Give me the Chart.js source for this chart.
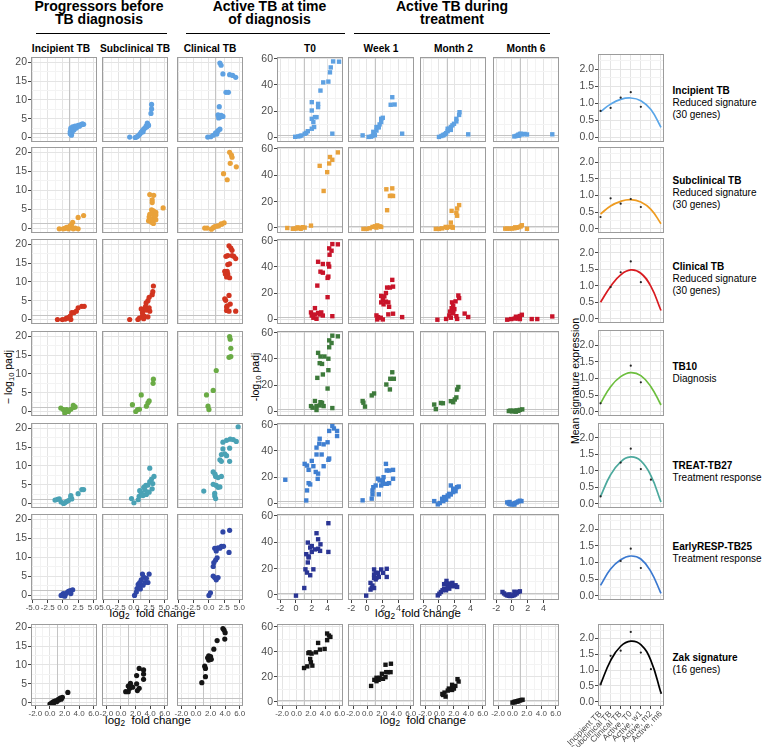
<!DOCTYPE html>
<html>
<head>
<meta charset="utf-8">
<script src="https://cdn.jsdelivr.net/npm/chart.js@4.4.1/dist/chart.umd.min.js"></script>
<style>
  body { margin: 0; background: #fff; font-family: 'Liberation Sans', Arial, sans-serif; }
  #fig { position: relative; width: 763px; height: 747px; overflow: hidden; }
  #fig canvas { position: absolute; }
  .t { position: absolute; white-space: nowrap; color: #000; }
  .c { transform: translateX(-50%); text-align: center; }
  .grp { font-weight: bold; font-size: 14px; line-height: 13px; }
  .rule { position: absolute; height: 0; border-top: 1px solid #000; }
  .hdr { font-weight: bold; font-size: 10.2px; line-height: 12px; }
  .sig { font-size: 10px; line-height: 12px; left: 672.5px; }
  .xt { font-size: 11.5px; line-height: 13px; }
  .yt { font-size: 10.5px; line-height: 12px; transform: translate(-50%, -50%) rotate(-90deg); }
  sub { font-size: 0.72em; vertical-align: -0.3em; line-height: 0; }
</style>
</head>
<body>
<div id="fig">
  <div class="t grp c" style="left:99px;top:0px">Progressors before<br>TB diagnosis</div>
  <div class="t grp c" style="left:269.5px;top:0px">Active TB at time<br>of diagnosis</div>
  <div class="t grp c" style="left:452px;top:0px">Active TB during<br>treatment</div>
  <div class="rule" style="left:36px;top:33px;width:131px"></div>
  <div class="rule" style="left:186px;top:33px;width:159px"></div>
  <div class="rule" style="left:354px;top:33px;width:196px"></div>

  <div class="t hdr c" style="left:61px;top:42.5px">Incipient TB</div>
  <div class="t hdr c" style="left:135px;top:42.5px">Subclinical TB</div>
  <div class="t hdr c" style="left:210px;top:42.5px">Clinical TB</div>
  <div class="t hdr c" style="left:310px;top:42.5px">T0</div>
  <div class="t hdr c" style="left:381px;top:42.5px">Week 1</div>
  <div class="t hdr c" style="left:453.5px;top:42.5px">Month 2</div>
  <div class="t hdr c" style="left:526px;top:42.5px">Month 6</div>

  <div class="t yt" style="left:7.5px;top:377px">&minus; log<sub>10</sub> padj</div>
  <div class="t yt" style="left:254.5px;top:377px">-log<sub>10</sub> padj</div>
  <div class="t yt" style="left:575px;top:381px">Mean signature expression</div>

  <div class="t xt c" style="left:152.5px;top:606.5px">log<sub>2</sub>&nbsp; fold change</div>
  <div class="t xt c" style="left:418px;top:606.5px">log<sub>2</sub>&nbsp; fold change</div>
  <div class="t xt c" style="left:148px;top:713.5px">log<sub>2</sub>&nbsp; fold change</div>
  <div class="t xt c" style="left:423px;top:713.5px">log<sub>2</sub>&nbsp; fold change</div>

  <div class="t sig" style="top:84.5px"><b>Incipient TB</b><br>Reduced signature<br>(30 genes)</div>
  <div class="t sig" style="top:175.2px"><b>Subclinical TB</b><br>Reduced signature<br>(30 genes)</div>
  <div class="t sig" style="top:260.5px"><b>Clinical TB</b><br>Reduced signature<br>(30 genes)</div>
  <div class="t sig" style="top:361.2px"><b>TB10</b><br>Diagnosis</div>
  <div class="t sig" style="top:459.8px"><b>TREAT-TB27</b><br>Treatment response</div>
  <div class="t sig" style="top:540.5px"><b>EarlyRESP-TB25</b><br>Treatment response</div>
  <div class="t sig" style="top:652.2px"><b>Zak signature</b><br>(16 genes)</div>
</div>
<script>
// tick labels
const fcTicksWide = [-5, -2.5, 0, 2.5, 5];
const fcTicksNarrow = [-2, 0, 2, 4];
const fcTicksZak = [-2, 0, 2, 4, 6];
const padjTicksLow = [0, 5, 10, 15, 20];
const padjTicksHigh = [0, 20, 40, 60];
const exprTicks = [0, 0.5, 1, 1.5, 2];
const stageLabels = ['Incipient TB', 'Subclinical TB', 'Clinical TB', 'Active, T0', 'Active, w1', 'Active, m2', 'Active, m6'];

// volcano points [log2 fold change, -log10 padj] — Incipient TB reduced signature
const incPInc = [[1.2,1.0],[1.2,1.5],[1.3,2.0],[1.3,2.5],[1.4,1.8],[1.5,1.3],[1.5,2.2],[1.6,2.8],[1.7,2.4],[1.8,2.0],[1.9,2.6],[2.0,3.0],[2.1,2.7],[2.2,2.5],[2.4,2.9],[2.5,3.2],[2.7,3.0],[2.8,3.3],[3.0,3.4],[3.2,3.6],[3.4,3.5],[1.4,0.6]];
const incPSub = [[-0.7,0.1],[0.2,0.0],[0.4,0.1],[0.6,0.3],[0.8,0.6],[1.0,1.0],[1.2,1.4],[1.4,1.8],[1.5,1.5],[1.6,2.2],[1.8,2.5],[2.0,3.0],[2.1,2.8],[2.2,3.8],[2.3,3.5],[2.4,3.2],[2.8,6.4],[2.9,7.6],[2.9,8.8]];
const incPCli = [[-0.2,0.1],[0.3,0.2],[0.7,0.6],[1.1,1.2],[1.3,0.9],[1.5,1.8],[1.8,2.2],[1.6,5.2],[1.5,6.0],[1.8,5.4],[2.0,5.9],[2.3,5.6],[1.7,8.2],[2.8,12.0],[3.2,12.0],[2.3,16.9],[3.4,16.7],[3.9,16.5],[4.4,16.0],[1.8,19.8],[2.0,19.2]];
const incT0 = [[-0.1,0.2],[0.3,0.5],[0.5,0.8],[0.7,1.2],[1.1,2.5],[1.3,3.2],[1.5,4.5],[2.0,6.4],[2.3,7.7],[2.2,11.5],[2.0,14.0],[2.4,15.3],[2.6,15.3],[2.0,20.4],[2.8,23.0],[2.8,25.5],[2.0,26.8],[3.1,35.7],[3.45,42.0],[4.1,42.6],[4.3,49.7],[4.4,53.5],[4.7,58.1],[5.45,57.9],[4.6,2.6]];
const incW1 = [[-0.55,1.3],[0.2,0.1],[0.5,0.3],[0.7,0.8],[0.8,4.0],[0.9,2.6],[1.0,1.5],[1.2,5.0],[1.4,7.6],[1.2,7.7],[1.5,7.5],[1.6,9.7],[1.8,11.5],[1.8,14.0],[2.0,14.8],[3.0,24.8],[3.5,25.0],[3.2,30.6],[4.45,2.6]];
const incM2 = [[0.0,0.1],[0.3,0.8],[0.5,1.3],[0.6,1.8],[0.8,2.2],[0.9,3.0],[1.1,4.5],[1.1,6.4],[1.3,6.4],[1.5,5.5],[1.5,7.7],[1.7,9.0],[1.9,10.2],[2.2,12.0],[2.2,14.0],[2.55,17.0],[2.6,19.1],[3.7,2.1]];
const incM6 = [[0.3,0.5],[0.5,0.8],[0.7,1.2],[0.8,1.8],[0.9,1.0],[1.0,2.3],[1.1,2.6],[1.3,2.0],[1.6,2.4],[1.9,2.0],[5.1,2.1]];

// Subclinical TB reduced signature
const subPInc = [[-0.6,-0.1],[0.05,-0.1],[0.3,0.0],[0.6,0.3],[0.9,-0.1],[1.0,0.4],[1.2,0.7],[1.3,0.2],[1.4,1.0],[1.6,1.6],[1.7,-0.1],[2.0,0.1],[2.5,-0.1],[2.5,2.9],[3.4,3.4]];
const subPSub = [[2.4,2.0],[2.5,3.0],[2.6,2.5],[2.6,3.7],[2.6,8.9],[2.8,1.9],[2.9,1.6],[2.9,4.9],[3.0,2.3],[3.0,6.8],[3.0,7.5],[3.1,3.7],[3.2,1.3],[3.2,4.6],[3.25,8.7],[3.4,2.9],[3.6,2.3],[3.6,3.5],[3.6,4.2],[4.8,5.4]];
const subPCli = [[-0.7,0.1],[-0.3,0.1],[0.4,-0.2],[0.7,0.2],[0.95,0.5],[1.3,0.6],[1.6,0.7],[2.0,1.2],[2.1,1.1],[2.5,1.5],[2.4,14.4],[3.0,12.8],[3.5,17.1],[3.4,20.0],[3.7,19.3],[3.8,18.7],[4.5,16.2]];
const subT0 = [[-1.1,0.0],[-0.4,-0.6],[-0.2,-0.6],[0.0,-0.4],[0.2,0.5],[0.4,0.0],[0.6,-0.6],[0.85,0.6],[1.1,0.3],[1.9,1.8],[3.5,28.1],[3.95,42.4],[3.0,47.2],[4.2,49.0],[4.6,51.8],[4.3,53.9],[5.3,57.4]];
const subW1 = [[-0.45,-0.7],[-0.05,-0.7],[0.35,-0.2],[0.7,0.8],[1.0,1.3],[1.2,0.3],[1.3,2.0],[1.6,1.3],[1.8,0.8],[2.55,13.5],[2.9,24.3],[3.1,24.5],[3.3,24.3],[2.45,29.4],[3.2,30.1]];
const subM2 = [[-0.4,-0.7],[0.0,-0.7],[0.4,-0.3],[0.85,0.8],[1.0,0.2],[1.25,0.8],[1.7,0.8],[1.75,0.2],[1.5,4.1],[1.6,13.0],[2.2,11.5],[2.3,9.3],[2.3,14.8],[2.55,17.4]];
const subM6 = [[-0.85,-0.5],[-0.6,-0.5],[-0.3,-0.5],[0.0,-0.4],[0.3,-0.2],[0.4,0.5],[0.6,0.2],[0.9,0.6],[1.1,1.2],[1.25,2.1],[1.9,-0.6]];

// Clinical TB reduced signature
const cliPInc = [[-0.9,0.0],[-0.1,0.0],[0.4,0.1],[0.6,0.4],[0.9,0.4],[1.0,0.6],[1.3,0.0],[1.2,0.9],[1.45,1.8],[1.8,1.8],[2.2,2.2],[2.5,3.1],[3.1,3.5],[3.5,3.5]];
const cliPSub = [[-0.7,0.0],[0.65,0.0],[0.9,0.4],[1.4,0.9],[1.6,0.2],[1.7,0.9],[2.3,0.7],[1.4,1.8],[1.2,2.8],[1.6,2.7],[2.0,2.5],[2.6,2.2],[1.9,3.4],[2.5,3.1],[2.0,4.4],[2.3,5.0],[2.5,5.9],[3.0,6.6],[3.1,7.4],[3.2,8.9]];
const cliPCli = [[3.3,19.6],[3.6,19.0],[3.8,18.4],[2.8,16.8],[3.1,17.0],[3.8,17.0],[4.1,16.8],[4.4,16.2],[3.1,14.6],[3.4,14.8],[2.6,12.8],[3.0,12.8],[2.7,12.1],[3.1,12.1],[2.9,11.3],[3.4,11.1],[3.3,6.4],[2.6,5.5],[2.75,5.1],[3.5,4.1],[3.0,3.6],[2.9,3.3],[2.9,2.4],[3.3,2.2],[4.4,2.2]];
const cliT0 = [[4.6,57.6],[5.3,57.4],[4.2,54.3],[4.5,52.5],[4.25,49.4],[2.8,44.0],[3.4,42.3],[4.1,42.3],[4.2,40.3],[3.1,36.4],[3.4,35.6],[4.1,32.6],[4.0,31.6],[2.7,25.7],[4.0,16.8],[2.4,8.4],[1.9,5.1],[2.0,2.7],[2.4,3.5],[2.8,4.7],[3.2,5.1],[3.4,2.7],[3.0,3.5],[2.2,1.0],[2.6,0.2],[4.6,2.2]];
const cliW1 = [[3.2,30.1],[2.55,24.2],[2.9,24.2],[3.3,24.9],[2.4,20.0],[1.8,17.8],[2.2,17.4],[2.0,14.8],[2.4,13.4],[2.7,12.8],[1.8,12.8],[2.1,11.3],[2.8,9.4],[1.2,2.8],[1.4,1.5],[1.3,-0.3],[1.75,1.0],[2.0,-0.3],[2.7,3.6],[3.3,4.1],[4.45,1.5]];
const cliM2 = [[2.45,18.1],[2.55,16.1],[2.1,13.6],[1.65,12.8],[1.8,10.2],[1.6,8.4],[1.95,7.6],[1.8,6.5],[1.4,5.7],[1.8,4.4],[1.3,2.7],[2.2,2.2],[1.5,1.0],[3.25,4.2],[3.7,1.6],[-0.2,-0.5],[0.9,0.1],[2.3,0.1]];
const cliM6 = [[-0.6,-0.5],[-0.1,0.0],[0.35,0.4],[0.5,1.8],[0.75,0.4],[1.0,2.3],[1.0,0.0],[1.25,3.3],[2.5,0.0],[3.2,0.0],[5.1,2.0]];

// TB10 diagnosis signature
const tb10PInc = [[-0.35,0.9],[0.07,0.5],[0.3,-0.4],[0.6,0.5],[0.9,0.0],[1.3,0.6],[1.7,1.6],[1.8,1.1],[2.0,1.2]];
const tb10PSub = [[-0.25,1.8],[0.3,0.0],[0.6,0.5],[0.9,0.6],[1.2,4.4],[2.05,1.4],[2.3,2.3],[2.5,2.8],[3.15,7.5],[3.2,8.6]];
const tb10PCli = [[0.0,0.5],[-0.15,1.4],[-0.4,4.4],[0.7,5.6],[1.2,10.9],[3.3,14.4],[3.6,14.6],[3.6,16.8],[3.5,19.2],[3.4,19.9]];
const tb10T0 = [[4.6,57.9],[5.3,57.4],[4.2,54.3],[4.5,52.3],[4.2,49.0],[2.8,44.7],[3.1,41.9],[3.6,41.9],[4.1,40.2],[3.0,36.8],[3.3,36.2],[4.1,31.4],[3.4,28.1],[2.7,25.5],[4.0,17.3],[2.4,7.7],[3.1,6.8],[3.3,6.3],[1.9,3.8],[2.6,3.8],[3.0,4.3],[3.5,3.8],[2.1,2.6],[2.6,0.8],[4.6,2.3]];
const tb10W1 = [[3.2,29.8],[2.95,24.8],[3.4,24.8],[2.45,20.4],[2.9,16.6],[0.9,13.5],[0.6,12.0],[-0.55,7.7],[-0.45,6.4],[-0.25,3.4]];
const tb10M2 = [[-0.6,5.0],[-0.4,1.5],[0.25,6.2],[0.5,6.0],[1.5,7.6],[1.8,6.8],[2.0,8.9],[2.2,10.5],[2.3,16.5],[2.45,18.5]];
const tb10M6 = [[-0.4,0.0],[-0.2,0.4],[0.0,-0.3],[0.2,0.3],[0.4,0.0],[0.5,-0.5],[0.6,0.5],[0.8,0.2],[1.0,0.9],[1.3,1.3]];

// TREAT-TB27 treatment response signature
const treatPInc = [[-1.3,0.9],[-0.9,1.1],[-0.6,1.2],[-0.3,0.4],[0.1,0.0],[0.3,0.2],[0.6,0.5],[0.9,0.8],[1.3,1.6],[1.45,1.2],[1.3,2.1],[2.5,2.6],[3.1,3.7],[3.4,3.7]];
const treatPSub = [[-0.4,1.3],[0.0,0.2],[0.7,1.0],[0.85,1.9],[0.95,3.4],[1.2,2.8],[1.4,2.3],[1.5,2.1],[1.6,4.3],[1.8,3.6],[1.95,4.8],[2.05,2.4],[2.2,3.0],[2.3,4.9],[2.5,3.0],[2.6,5.8],[2.6,9.4],[2.9,6.5],[3.0,3.9],[3.1,5.3],[3.3,7.2]];
const treatPCli = [[4.8,20.4],[2.3,16.3],[2.9,16.8],[3.5,17.1],[4.0,17.0],[4.5,16.5],[2.3,14.5],[3.4,14.7],[2.05,13.0],[2.6,13.2],[2.9,12.7],[1.8,11.6],[2.05,11.2],[3.4,11.2],[0.7,8.4],[1.0,7.8],[1.1,7.2],[1.5,6.9],[2.05,7.2],[0.7,5.1],[1.2,4.8],[1.5,4.3],[1.8,4.4],[-0.85,3.3],[0.95,2.7],[0.95,2.0],[1.1,1.3]];
const treatT0 = [[-1.35,17.9],[1.1,30.1],[1.4,28.8],[1.6,25.5],[2.0,32.4],[2.2,28.3],[1.6,15.3],[1.8,14.3],[1.4,9.7],[1.3,2.0],[2.6,42.6],[3.0,49.4],[2.95,45.6],[3.5,45.1],[2.6,37.3],[3.25,37.3],[2.5,23.9],[2.8,22.6],[2.75,18.6],[3.5,28.3],[4.0,46.7],[4.1,33.2],[4.2,34.2],[4.2,55.4],[4.6,59.3],[5.2,55.4],[5.2,51.5],[4.8,57.3]];
const treatW1 = [[-0.55,2.1],[0.6,3.4],[0.7,6.7],[0.7,9.7],[0.8,12.2],[1.1,13.5],[1.4,18.7],[1.5,6.7],[1.6,17.4],[1.8,13.5],[2.0,17.4],[2.0,14.8],[2.1,19.9],[2.4,30.1],[2.5,25.0],[2.5,14.8],[2.8,25.0],[2.8,15.3],[3.3,25.5],[3.3,18.7]];
const treatM2 = [[-0.6,1.5],[-0.15,-1.0],[0.1,0.0],[0.4,3.3],[0.55,1.5],[0.65,4.6],[0.9,2.6],[1.1,5.8],[1.2,5.1],[1.3,7.1],[1.5,6.6],[1.5,13.5],[1.8,8.4],[1.8,10.9],[2.05,10.9],[2.1,9.1],[2.3,12.2],[2.5,12.7]];
const treatM6 = [[-0.6,0.5],[-0.4,-0.5],[-0.3,0.8],[-0.2,-1.0],[0.0,-1.0],[0.2,-0.5],[0.3,-1.2],[0.4,0.0],[0.6,0.5],[0.8,1.2],[1.0,1.8],[1.2,1.5]];

// EarlyRESP-TB25 treatment response signature
const earlyPInc = [[-0.3,0.0],[0.05,0.5],[0.1,0.0],[0.3,-0.2],[0.4,0.3],[0.6,0.7],[0.9,1.1],[1.1,0.9],[1.2,1.3],[1.3,0.5],[1.6,1.5]];
const earlyPSub = [[0.1,0.0],[0.4,0.9],[0.5,1.8],[0.7,2.9],[0.85,2.5],[0.95,3.4],[1.05,1.7],[1.2,4.1],[1.4,5.6],[1.5,2.7],[1.6,4.8],[1.8,3.4],[2.05,4.5],[2.3,3.4],[2.5,5.6]];
const earlyPCli = [[0.0,0.0],[0.25,0.7],[0.7,5.1],[0.95,4.7],[1.2,4.1],[1.5,4.7],[0.7,7.6],[0.8,8.6],[1.1,9.3],[1.35,9.9],[0.95,12.4],[1.2,11.7],[1.5,12.5],[1.8,12.4],[2.05,12.9],[2.4,12.9],[3.3,11.3],[2.3,16.7],[3.4,17.1]];
const earlyT0 = [[0.0,-0.5],[1.05,5.3],[1.2,19.5],[1.4,17.0],[1.8,15.0],[2.2,19.5],[1.5,24.7],[1.6,28.5],[1.6,29.3],[1.3,31.0],[2.0,32.7],[1.8,36.0],[2.0,37.2],[1.5,39.8],[2.4,34.6],[2.8,35.1],[3.05,33.5],[3.1,38.5],[2.8,42.3],[2.6,46.9],[4.1,32.7],[4.1,54.5]];
const earlyW1 = [[-0.1,-0.5],[0.45,4.1],[0.6,5.3],[0.9,5.3],[0.7,7.2],[0.45,9.2],[1.1,11.8],[0.9,13.0],[1.2,13.0],[1.5,13.7],[0.9,15.5],[1.1,16.8],[1.4,16.8],[2.05,16.8],[0.9,19.4],[1.8,19.4],[2.5,19.9],[2.5,13.7]];
const earlyM2 = [[-0.15,-0.3],[0.05,1.0],[0.25,2.3],[0.45,3.6],[0.65,4.8],[0.9,3.6],[1.3,4.8],[1.1,6.1],[0.65,8.2],[0.9,8.7],[0.95,10.7],[1.3,8.7],[1.5,7.4],[1.7,9.2],[1.8,6.6],[2.1,7.4],[2.3,6.1]];
const earlyM6 = [[-1.2,2.3],[-1.0,1.2],[-0.8,0.3],[-0.6,-0.3],[-0.4,-0.6],[-0.3,0.5],[-0.2,-0.8],[0.0,-0.6],[0.2,-0.3],[0.3,2.5],[0.4,0.3],[0.6,1.2],[0.8,2.3],[1.0,2.8]];

// Zak signature
const zakPInc = [[0.0,-0.4],[0.15,-0.3],[0.3,0.0],[0.5,0.3],[0.6,0.0],[0.75,0.5],[0.95,0.3],[1.1,0.8],[1.2,0.7],[1.4,1.2],[1.55,0.9],[1.7,1.4],[2.45,2.7]];
const zakPSub = [[0.65,2.9],[1.0,2.9],[1.0,4.4],[1.2,3.8],[1.3,5.1],[1.6,4.1],[2.15,5.0],[2.15,7.2],[2.25,3.2],[2.5,3.8],[2.5,9.1],[3.1,6.2],[3.1,7.6],[3.1,8.7]];
const zakPCli = [[0.8,5.3],[1.3,6.9],[1.2,9.7],[1.3,9.1],[1.6,11.9],[1.75,11.3],[1.75,12.4],[2.0,12.2],[2.1,11.5],[2.45,14.2],[2.9,16.5],[3.95,16.9],[3.7,19.7],[3.85,19.3],[4.0,18.6]];
const zakT0 = [[1.05,27.1],[1.5,28.4],[2.2,29.0],[2.0,31.6],[1.9,34.3],[2.1,38.6],[1.8,39.6],[1.65,39.0],[2.7,39.6],[3.25,41.8],[3.9,42.3],[3.0,47.1],[4.25,49.3],[4.7,51.9],[4.5,53.0],[4.25,54.6]];
const zakW1 = [[0.5,12.8],[0.95,17.7],[1.25,16.6],[1.25,19.3],[1.55,17.7],[1.7,19.3],[2.15,18.5],[2.0,22.5],[2.5,19.8],[2.6,23.8],[2.8,23.8],[3.2,23.8],[2.5,29.7],[3.25,30.5]];
const zakM2 = [[0.4,6.4],[0.5,5.6],[0.85,4.3],[0.7,7.5],[1.15,9.1],[1.3,10.7],[1.5,10.2],[1.75,9.6],[1.75,13.7],[2.0,10.7],[2.2,12.8],[2.65,16.3],[2.5,18.2]];
const zakM6 = [[0.0,-0.5],[0.2,0.0],[0.3,-0.3],[0.4,0.3],[0.6,0.6],[0.7,0.3],[0.8,0.9],[1.0,1.2],[1.2,1.5],[1.4,1.8]];

// mean signature expression: fitted curve at each stage, and group means [stage, value]
const incCurve = [0.76, 0.98, 1.12, 1.16, 1.08, 0.82, 0.3];
const subCurve = [0.44, 0.68, 0.82, 0.87, 0.8, 0.58, 0.15];
const cliCurve = [0.5, 0.98, 1.33, 1.48, 1.38, 0.98, 0.25];
const tb10Curve = [0.25, 0.75, 1.05, 1.17, 1.08, 0.75, 0.2];
const treatCurve = [0.22, 0.88, 1.27, 1.42, 1.3, 0.85, 0.05];
const earlyCurve = [0.31, 0.8, 1.08, 1.19, 1.1, 0.72, 0.07];
const zakCurve = [0.55, 1.3, 1.75, 1.91, 1.8, 1.3, 0.28];
const incMeans = [[1,0.78],[2,0.87],[3,1.17],[4,1.33],[5,0.9]];
const subMeans = [[1,0.35],[2,0.91],[3,0.75],[4,0.89],[5,0.65]];
const cliMeans = [[2,0.96],[3,1.41],[4,1.74],[5,1.11]];
const tb10Means = [[1,0.25],[4,1.38],[5,0.88]];
const treatMeans = [[1,0.22],[3,1.25],[4,1.67],[5,1.05],[6,0.73]];
const earlyMeans = [[3,1.04],[4,1.41],[5,0.83]];
const zakMeans = [[1,0.55],[2,1.45],[3,1.61],[4,2.2],[5,1.55],[6,1.03],[7,0.28]];

// colours per signature row
const dotColors = ['#5EA1E2', '#E9A23B', '#D2341F', '#6AAB45', '#4AA2B5', '#2F46A6', '#151515'];
const squareColors = ['#5EA1E2', '#E9A23B', '#C8142A', '#3D7A3B', '#3F7FD1', '#2A3594', '#151515'];
const curveColors = ['#5AA6E8', '#EE9B20', '#D81B20', '#6CBE3D', '#4CA99D', '#3B79D0', '#000000'];

const rowPoints = [
  [incPInc, incPSub, incPCli, incT0, incW1, incM2, incM6],
  [subPInc, subPSub, subPCli, subT0, subW1, subM2, subM6],
  [cliPInc, cliPSub, cliPCli, cliT0, cliW1, cliM2, cliM6],
  [tb10PInc, tb10PSub, tb10PCli, tb10T0, tb10W1, tb10M2, tb10M6],
  [treatPInc, treatPSub, treatPCli, treatT0, treatW1, treatM2, treatM6],
  [earlyPInc, earlyPSub, earlyPCli, earlyT0, earlyW1, earlyM2, earlyM6],
  [zakPInc, zakPSub, zakPCli, zakT0, zakW1, zakM2, zakM6]
];
const rowCurves = [incCurve, subCurve, cliCurve, tb10Curve, treatCurve, earlyCurve, zakCurve];
const rowMeans = [incMeans, subMeans, cliMeans, tb10Means, treatMeans, earlyMeans, zakMeans];

// panel layout (px)
const colLeft = [31, 102, 177, 277, 348, 420, 493];
const panelW = 66;
const rowTop = [57, 147, 239, 331, 423, 514, 624];
const rowH = [85, 86, 85, 85, 85, 86, 82];
const sigLeft = 598;
const sigTop = [54, 147, 238, 330, 423, 514, 624];
const sigH = [88, 86, 85, 86, 85, 86, 82];

const FONT = "'Liberation Sans', Arial, sans-serif";
const fig = document.getElementById('fig');

function minorBetween(major, min, max) {
  const step = major[1] - major[0];
  const out = [];
  for (let v = major[0] - step / 2; v < max; v += step) if (v > min) out.push(v);
  return out;
}

function makeScale(o) {
  const majorSet = new Set(o.major);
  const all = o.major.concat(o.minor ? minorBetween(o.major, o.min, o.max) : []).sort((a, b) => a - b);
  const isMajor = c => c.tick && majorSet.has(c.tick.value);
  return {
    type: 'linear', min: o.min, max: o.max,
    afterBuildTicks: s => { s.ticks = all.map(v => ({ value: v })); },
    afterFit: s => { if (o.vertical) s.width = o.size; else s.height = o.size; },
    border: { display: false },
    grid: {
      color: c => isMajor(c) ? '#E4E4E4' : '#F3F3F3',
      lineWidth: 1,
      drawTicks: o.labels,
      tickLength: 3,
      tickColor: c => isMajor(c) ? '#444' : 'rgba(0,0,0,0)'
    },
    ticks: {
      display: o.labels, autoSkip: false, padding: o.pad || 0, color: '#4D4D4D',
      font: { family: FONT, size: o.font || 10.5 },
      maxRotation: o.rot || 0, minRotation: o.rot || 0,
      callback: v => majorSet.has(v) ? o.fmt(v) : ''
    }
  };
}

const panelDeco = {
  id: 'panelDeco',
  beforeDatasetsDraw(chart, args, opts) {
    const { ctx, chartArea: a, scales: { x, y } } = chart;
    if (opts.vx === undefined) return;
    ctx.save();
    ctx.strokeStyle = '#C4C4C4';
    ctx.lineWidth = 1;
    ctx.beginPath();
    const px = Math.round(x.getPixelForValue(opts.vx)) + 0.5;
    ctx.moveTo(px, a.top); ctx.lineTo(px, a.bottom);
    const py = Math.round(y.getPixelForValue(opts.hy)) + 0.5;
    ctx.moveTo(a.left, py); ctx.lineTo(a.right, py);
    ctx.stroke();
    ctx.restore();
  },
  afterDraw(chart) {
    const { ctx, chartArea: a } = chart;
    ctx.save();
    ctx.strokeStyle = '#9C9C9C';
    ctx.lineWidth = 1;
    ctx.strokeRect(Math.round(a.left) + 0.5, Math.round(a.top) + 0.5, Math.round(a.width) - 1, Math.round(a.height) - 1);
    ctx.restore();
  }
};

function addChart(left, top, w, h, config) {
  const cv = document.createElement('canvas');
  cv.width = w; cv.height = h;
  cv.style.left = left + 'px'; cv.style.top = top + 'px';
  cv.style.width = w + 'px'; cv.style.height = h + 'px';
  fig.appendChild(cv);
  config.plugins = [panelDeco];
  config.options.responsive = false;
  config.options.animation = false;
  config.options.devicePixelRatio = 1;
  config.options.events = [];
  new Chart(cv, config);
}

// volcano panels
const ML = 30, MT = 10, MR = 14, MB = 24;
for (let r = 0; r < 7; r++) {
  for (let c = 0; c < 7; c++) {
    const wide = c < 3, zak = r === 6;
    const showX = r >= 5, showY = c === 0 || c === 3;
    const xMajor = zak ? fcTicksZak : (wide ? fcTicksWide : fcTicksNarrow);
    const xr = zak ? (wide ? [-2.6, 6.45] : [-2.7, 6.45]) : (wide ? [-5.25, 5.6] : [-2.4, 5.95]);
    const yr = wide ? (zak ? [-0.9, 20.9] : [-1.2, 21.4]) : (zak ? [-3.2, 62.2] : [-3.8, 61.5]);
    const xH = showX ? 13 : 0;
    const xFmt = (zak || wide) ? (v => v.toFixed(1)) : (v => String(v));
    const color = wide ? dotColors[r] : squareColors[r];
    addChart(colLeft[c] - ML, rowTop[r] - MT, ML + panelW + MR, MT + rowH[r] + MB, {
      type: 'scatter',
      data: {
        datasets: [{
          data: rowPoints[r][c].map(([x, y]) => ({ x, y })),
          pointStyle: wide ? 'circle' : 'rect',
          pointRadius: wide ? 2.6 : 3.1,
          backgroundColor: color, borderColor: color, borderWidth: 0
        }]
      },
      options: {
        layout: { padding: { left: 0, top: MT, right: MR, bottom: MB - xH } },
        plugins: { legend: { display: false }, tooltip: { enabled: false }, panelDeco: { vx: 1, hy: 1.3 } },
        scales: {
          x: makeScale({ min: xr[0], max: xr[1], major: xMajor, minor: true, labels: showX, fmt: xFmt,
                         size: xH, font: wide || zak ? 8 : 9 }),
          y: makeScale({ min: yr[0], max: yr[1], major: wide ? padjTicksLow : padjTicksHigh, minor: true,
                         labels: showY, fmt: v => String(v), vertical: true, size: ML, pad: 1 })
        }
      }
    });
  }
}

// mean signature expression panels
const stageIdx = [1, 2, 3, 4, 5, 6, 7];
for (let r = 0; r < 7; r++) {
  const last = r === 6;
  const xH = last ? 50 : 0;
  addChart(sigLeft - 50, sigTop[r] - MT, 50 + panelW + 8, MT + sigH[r] + (last ? 50 : 10), {
    type: 'scatter',
    data: {
      datasets: [{
        data: rowMeans[r].map(([x, y]) => ({ x, y })),
        pointRadius: 1.1, backgroundColor: '#222', borderWidth: 0
      }, {
        data: rowCurves[r].map((v, i) => ({ x: stageIdx[i], y: v })),
        showLine: true, tension: 0.45, pointRadius: 0,
        borderColor: curveColors[r], borderWidth: 1.7, fill: false
      }]
    },
    options: {
      layout: { padding: { left: 20, top: MT, right: 8, bottom: last ? 0 : 10 } },
      plugins: { legend: { display: false }, tooltip: { enabled: false } },
      scales: {
        x: makeScale({ min: 0.75, max: 7.3, major: stageIdx, minor: false, labels: last,
                       fmt: v => stageLabels[v - 1], size: xH, font: 8.5, rot: 45 }),
        y: makeScale({ min: -0.13, max: 2.45, major: exprTicks, minor: true, labels: true,
                       fmt: v => v.toFixed(1), vertical: true, size: 30, pad: 1 })
      }
    }
  });
}
</script>
</body>
</html>
